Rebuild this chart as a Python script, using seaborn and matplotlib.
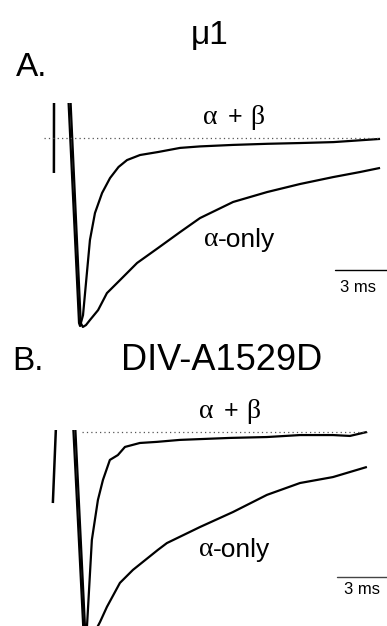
import matplotlib
matplotlib.use("Agg")
import matplotlib.pyplot as plt
import seaborn as sns
import pandas as pd

sns.set_style("white")
plt.rcParams['font.family'] = ['Liberation Sans', 'DejaVu Sans']
plt.rcParams['text.color'] = 'black'

# ---------------- data (time in ms, current normalised to peak) ----------------
# Panel A (mu1)
a_ab_t = [-0.2, 0.52, 0.58, 0.75, 1.15, 1.44, 1.85, 2.31, 2.8, 3.29, 4.04, 5.08, 6.35,
          7.5, 9.41, 11.4, 13.27, 15.2, 16.16, 17.89]
a_ab_i = [0.417, -0.989, -1.005, -0.947, -0.545, -0.401, -0.294, -0.214, -0.155, -0.118,
          -0.091, -0.075, -0.053, -0.045, -0.037, -0.031, -0.027, -0.022, -0.016, -0.005]
a_ao_t = [-0.08, 0.62, 0.74, 0.92, 1.15, 1.62, 2.13, 2.89, 3.87, 5.08, 6.35, 7.5, 9.41,
          11.37, 13.27, 15.18, 16.73, 17.89]
a_ao_i = [0.417, -0.989, -1.01, -1.0, -0.973, -0.92, -0.829, -0.759, -0.668, -0.588,
          -0.503, -0.428, -0.342, -0.289, -0.246, -0.209, -0.182, -0.16]
a_art_t = [-0.92, -0.93]
a_art_i = [0.4, -0.187]

# Panel B (DIV-A1529D)
b_ab_t = [-0.06, 0.69, 0.78, 0.89, 1.15, 1.5, 1.79, 2.19, 2.65, 3.06, 3.92, 4.9, 6.23,
          9.12, 11.25, 13.16, 15.06, 16.04, 17.02]
b_ab_i = [0.236, -0.945, -1.0, -0.855, -0.491, -0.309, -0.218, -0.127, -0.105, -0.068,
          -0.05, -0.045, -0.036, -0.027, -0.023, -0.014, -0.014, -0.018, 0.0]
b_ao_t = [0.06, 0.79, 0.92, 1.12, 1.38, 1.62, 2.02, 2.77, 3.52, 4.96, 5.48, 7.39, 9.29,
          11.25, 13.16, 15.06, 17.02]
b_ao_i = [0.236, -0.945, -1.01, -0.99, -0.9, -0.864, -0.795, -0.686, -0.627, -0.536,
          -0.505, -0.432, -0.364, -0.286, -0.232, -0.205, -0.159]
b_art_t = [-0.83, -1.10]
b_art_i = [0.2, -0.323]

scale_ms = 3

# ---------------- figure ----------------
W, H = 387, 626
fig = plt.figure(figsize=(W / 100, H / 100), dpi=100)


def px_axes(top, bottom):
    return fig.add_axes([0, 1 - bottom / H, 1, (bottom - top) / H])


def trace(ax, t, i, lw=1.6):
    df = pd.DataFrame({"t": t, "i": i})
    sns.lineplot(data=df, x="t", y="i", ax=ax, color="black", lw=lw,
                 sort=False, estimator=None, solid_capstyle="butt")


# Panel A
axA = px_axes(103, 335)
trace(axA, a_ab_t, a_ab_i)
trace(axA, a_ao_t, a_ao_i)
trace(axA, a_art_t, a_art_i, lw=1.8)
axA.plot([-1.5, 17.9], [0, 0], color="#555555", lw=0.9, ls=(0, (1, 2.5)))
axA.plot([15.29, 15.29 + scale_ms], [-0.706, -0.706], color="black", lw=1.0)
axA.set_xlim(-4.04, 18.29)
axA.set_ylim(-1.053, 0.187)
axA.set_axis_off()

# Panel B
axB = px_axes(430, 626)
trace(axB, b_ab_t, b_ab_i)
trace(axB, b_ao_t, b_ao_i)
trace(axB, b_art_t, b_art_i, lw=1.8)
axB.plot([0.58, 17.0], [0, 0], color="#555555", lw=0.9, ls=(0, (1, 2.5)))
axB.plot([15.3, 15.3 + scale_ms], [-0.66, -0.66], color="#444444", lw=1.0)
axB.set_xlim(-4.15, 18.18)
axB.set_ylim(-0.882, 0.009)
axB.set_axis_off()

SERIF = ['Liberation Serif', 'DejaVu Serif']
SANS = ['Liberation Sans', 'DejaVu Sans']


def ftext(x, y, s, size, ha="center", family=SANS):
    fig.text(x / W, 1 - y / H, s, ha=ha, va="center", fontsize=size,
             family=family, color="black")


def ab_label(xc, y):
    ftext(xc - 25, y, "α", 20, family=SERIF)
    ftext(xc, y, "+", 18)
    ftext(xc + 22, y, "β", 20, family=SERIF)


def aonly_label(x0, y):
    ftext(x0 + 15, y, "α", 20, ha="right", family=SERIF)
    ftext(x0 + 15, y, "-only", 19, ha="left")


ftext(210, 35, "μ1", 24)
ftext(16, 68, "A.", 24, ha="left")
ab_label(235, 117)
aonly_label(203, 240)
ftext(358, 288, "3 ms", 12)

ftext(12, 361, "B.", 24, ha="left")
ftext(222, 361, "DIV-A1529D", 26)
ab_label(231, 411)
aonly_label(198, 550)
ftext(362, 590, "3 ms", 12)

fig.savefig("out.png", dpi=100)
